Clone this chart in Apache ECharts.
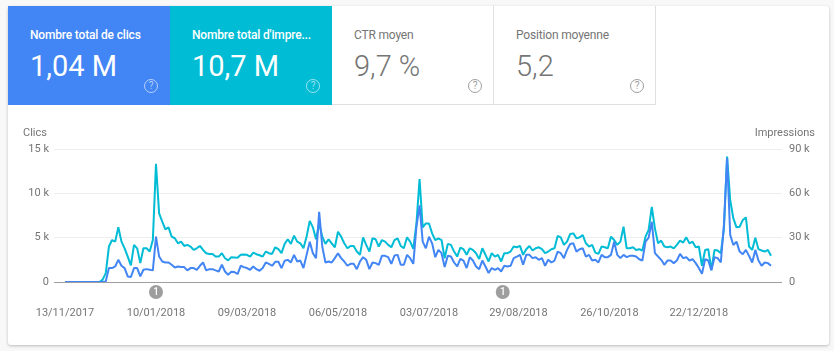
<!DOCTYPE html>
<html>
<head>
<meta charset="utf-8">
<title>Performances</title>
<script src="https://cdn.jsdelivr.net/npm/echarts@6/dist/echarts.min.js"></script>
<style>
	html,body{margin:0;padding:0;width:834px;height:351px;overflow:hidden;background:#f8f8f8;font-family:Roboto,sans-serif;}
	#panel{position:absolute;left:8px;top:6px;width:821px;height:339px;background:#fff;border-radius:3px;box-shadow:0 1px 3px rgba(0,0,0,.25);}
	.tab{position:absolute;top:0;width:162px;height:99px;box-sizing:border-box;color:#757575;}
	.tab.plain{border-right:1px solid #e0e0e0;border-bottom:1px solid #e0e0e0;}
	.tab .name{position:absolute;left:22px;top:21px;font-size:12px;letter-spacing:-.17px;line-height:16px;white-space:nowrap;}
	.tab .val{position:absolute;left:22px;top:41px;font-size:29px;font-weight:300;line-height:38px;white-space:nowrap;}
	.tab .help{position:absolute;left:136px;top:73px;width:14px;height:14px;box-sizing:border-box;border:1px solid #9e9e9e;border-radius:50%;font-size:10px;line-height:12px;text-align:center;color:#9e9e9e;}
	.tab.on{color:#fff;}
	.tab.on .name{font-weight:500;}
	.tab.on .val{font-weight:400;}
	.tab.on .help{border-color:rgba(255,255,255,.6);color:rgba(255,255,255,.6);}
	#chart{position:absolute;left:0;top:0;width:834px;height:351px;}
</style>
</head>
<body>
<div id="panel">
	<div class="tab on" style="left:0;background:#4285f4;"><div class="name">Nombre total de clics</div><div class="val">1,04 M</div><div class="help">?</div></div>
	<div class="tab on" style="left:162px;background:#00bcd4;"><div class="name">Nombre total d'impre...</div><div class="val">10,7 M</div><div class="help">?</div></div>
	<div class="tab plain" style="left:324px;"><div class="name">CTR moyen</div><div class="val">9,7 %</div><div class="help">?</div></div>
	<div class="tab plain" style="left:486px;"><div class="name">Position moyenne</div><div class="val">5,2</div><div class="help">?</div></div>
</div>
<div id="chart"></div>
<script>
//une valeur tous les 2 jours a partir de firstDay
var firstDay = "13/11/2017";
var stepDays = 2;
var axisStart = "06/11/2017";
var axisEnd = "13/02/2019";
var tickLabels = ["13/11/2017","10/01/2018","09/03/2018","06/05/2018","03/07/2018","29/08/2018","26/10/2018","22/12/2018"];
var annotationDays = ["10/01/2018","19/08/2018"];
var clicks = [
	0,0,0,0,0,0,0,0,0,0,0,0,0,70,1570,1570,1750,2500,1830,1570,630,560,1570,1570,630,1380,1450,1380,1310,5110,
	2870,2310,2200,2200,1940,1640,1750,1680,1680,1310,1570,1570,1380,1830,2200,1310,1450,1450,1310,1190,1940,1190,820,1160,1120,900,1830,1680,1570,1380,
	1750,1450,1270,1570,2200,2050,1830,2280,2280,1570,2390,2500,2200,3060,2310,2420,1570,3060,4550,3250,2690,7910,3990,2200,2310,2200,2690,3250,2690,2310,
	1830,2050,2050,1450,2310,2800,2500,1450,2200,2130,1940,2950,2950,2800,2050,2980,3060,1940,1940,3060,2690,2050,6230,8650,4550,3800,5110,4360,2800,3620,
	3250,1680,2950,2870,2200,1750,2610,2420,1570,2800,2420,1750,1450,2420,1750,1010,1570,1380,1570,1190,1830,1750,1830,2690,2870,3060,1940,3060,3060,2690,
	2800,2500,2690,1830,2500,2200,2420,3430,3250,2690,3620,4290,4360,3430,3690,3800,2870,3060,2420,2500,2200,3060,2800,2800,3060,4550,3060,2690,3060,2800,
	2950,2950,2870,2570,2420,4550,5000,6790,3250,2870,2500,1940,2420,2420,2130,2420,3170,2690,2800,2420,2570,2130,1570,930,2570,2420,1310,2800,2690,2200,
	6500,13990,5300,4180,4550,3430,3130,3620,2950,2200,3620,2420,1830,2200,2130,1830
];
var impressions = [
	0,0,0,0,0,0,0,0,0,0,0,0,1600,6000,24000,28400,27300,37000,27300,22800,17200,11200,25100,22800,12800,22800,22800,20600,28400,80000,
	46400,40800,35600,37000,30700,29600,26200,27300,24400,25100,24000,21700,22800,24400,21700,19500,19000,19000,17200,17200,19500,16100,14600,16800,16600,16400,18400,18600,18400,17200,
	19900,18800,18100,17200,20600,19500,19000,23500,22200,19500,25800,28900,25800,31400,27300,26200,22800,30700,41400,37000,28900,39600,30700,25800,28900,26200,23500,34000,30700,26200,
	22800,24400,24400,20600,18400,30200,25100,20600,29600,28900,24000,28400,27300,25100,23500,28400,29600,24400,22800,30200,27300,22400,39600,69700,37000,39600,39600,32900,28400,29600,
	28400,16100,25800,25100,20600,17200,23300,22200,18400,22800,21700,19500,15500,22800,18400,13900,19500,17200,18400,13900,19500,19500,20600,24000,23500,24400,18400,22200,24400,21300,
	22800,23500,22200,19500,20600,22200,22800,31100,30200,25100,27300,32500,32900,29600,30200,31800,26200,24000,25100,19900,19000,24000,23500,22800,30700,28400,25100,27300,37400,22800,
	22800,23500,21700,22200,21300,30700,35200,50800,36300,26200,28000,24000,23500,24000,22800,25100,28000,26700,30200,26200,27300,23500,24000,11000,21700,22200,8300,21700,21300,19500,
	36000,84900,55300,43000,37000,37400,41900,43700,24000,21700,30000,22200,21300,20600,21700,17700
];

function parseDay(s){
	var p = s.split("/");
	return new Date(+p[2], +p[1]-1, +p[0]).getTime();
}
function formatDay(t){
	var d = new Date(t);
	var dd = ("0"+d.getDate()).slice(-2);
	var mm = ("0"+(d.getMonth()+1)).slice(-2);
	return dd+"/"+mm+"/"+d.getFullYear();
}
function pairs(values){
	var start = new Date(parseDay(firstDay));
	return values.map(function(v,i){
		return [new Date(start.getFullYear(), start.getMonth(), start.getDate()+i*stepDays).getTime(), v];
	});
}

var textColor = "#757575";
var myChart = echarts.init(document.getElementById("chart"));
myChart.setOption({
	animation: false,
	textStyle: {fontFamily: "Roboto"},
	grid: {left: 54, right: 52, top: 149, bottom: 69},
	xAxis: {
		type: "value",
		min: parseDay(axisStart),
		max: parseDay(axisEnd),
		axisLine: {show: false},
		axisTick: {show: false},
		splitLine: {show: false},
		axisLabel: {
			customValues: tickLabels.map(parseDay),
			formatter: function(v){ return formatDay(v); },
			color: textColor,
			fontSize: 11,
			margin: 26
		}
	},
	yAxis: [{
		type: "value",
		min: 0,
		max: 15000,
		interval: 5000,
		name: "Clics",
		nameLocation: "end",
		nameGap: 10,
		nameTextStyle: {color: textColor, fontSize: 11, align: "left", padding: [0,0,0,-31]},
		axisLine: {show: false},
		axisTick: {show: false},
		splitLine: {lineStyle: {color: "#eeeeee"}},
		axisLabel: {
			color: textColor,
			fontSize: 11,
			margin: 5,
			padding: [0,0,3,0],
			formatter: function(v){ return v ? (v/1000)+" k" : "0"; }
		}
	},{
		type: "value",
		min: 0,
		max: 90000,
		interval: 30000,
		name: "Impressions",
		nameLocation: "end",
		nameGap: 10,
		nameTextStyle: {color: textColor, fontSize: 11, align: "right", padding: [0,-33,0,0]},
		axisLine: {show: false},
		axisTick: {show: false},
		splitLine: {show: false},
		axisLabel: {
			color: textColor,
			fontSize: 11,
			margin: 7,
			padding: [0,0,3,0],
			formatter: function(v){ return v ? (v/1000)+" k" : "0"; }
		}
	}],
	series: [{
		name: "Impressions",
		type: "line",
		yAxisIndex: 1,
		data: pairs(impressions),
		showSymbol: false,
		lineStyle: {width: 2, color: "#00bcd4"},
		itemStyle: {color: "#00bcd4"},
		z: 2
	},{
		name: "Clics",
		type: "line",
		yAxisIndex: 0,
		data: pairs(clicks),
		showSymbol: false,
		lineStyle: {width: 2, color: "#4285f4"},
		itemStyle: {color: "#4285f4"},
		z: 3,
		markLine: {
			silent: true,
			symbol: "none",
			label: {show: false},
			lineStyle: {color: "#9e9e9e", width: 1, type: "solid"},
			data: [{yAxis: 0}]
		},
		markPoint: {
			silent: true,
			symbol: "circle",
			symbolSize: 14,
			symbolOffset: [0, 10],
			itemStyle: {color: "#9e9e9e"},
			label: {show: true, formatter: "1", color: "#fff", fontSize: 10, fontWeight: 500},
			data: annotationDays.map(function(d){ return {coord: [parseDay(d), 0]}; })
		}
	}]
});
</script>
</body>
</html>
